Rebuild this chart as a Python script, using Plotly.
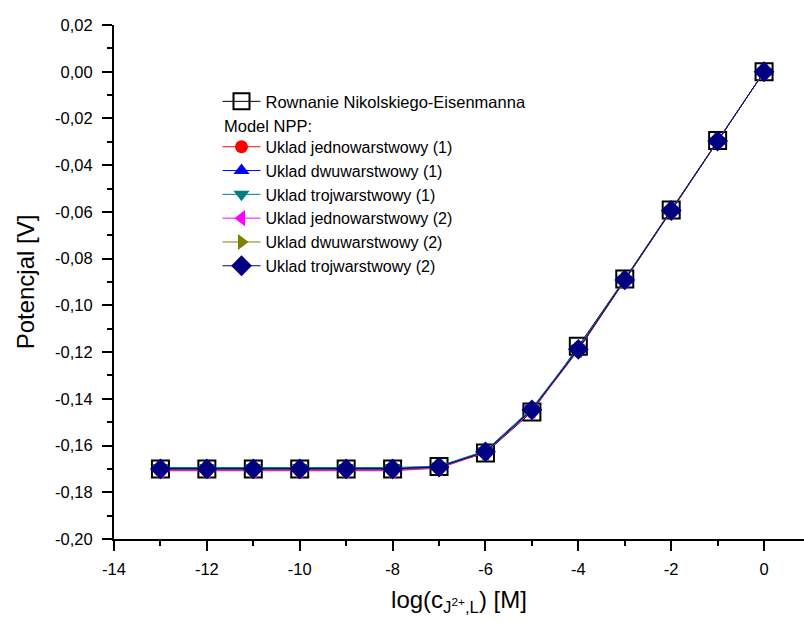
import plotly.graph_objects as go

# log concentration of the primary ion
log_c = [-13, -12, -11, -10, -9, -8, -7, -6, -5, -4, -3, -2, -1, 0]

# Nikolsky-Eisenmann equation
ne = [-0.1700, -0.1700, -0.1700, -0.1700, -0.1700, -0.1700, -0.1690,
      -0.1632, -0.1456, -0.1175, -0.0887, -0.0592, -0.0294, 0.0000]

# NPP model, single / double / triple layer systems, variants (1) and (2)
jedno_1 = [-0.1706, -0.1706, -0.1706, -0.1706, -0.1706, -0.1706, -0.1695,
           -0.1628, -0.1450, -0.1190, -0.0893, -0.0595, -0.0297, 0.0000]
dwu_1 = [-0.1698, -0.1698, -0.1698, -0.1698, -0.1698, -0.1698, -0.1690,
         -0.1625, -0.1445, -0.1185, -0.0890, -0.0594, -0.0297, 0.0000]
trzy_1 = [-0.1694, -0.1694, -0.1694, -0.1694, -0.1694, -0.1694, -0.1688,
          -0.1622, -0.1440, -0.1182, -0.0888, -0.0593, -0.0296, 0.0000]
jedno_2 = [-0.1708, -0.1708, -0.1708, -0.1708, -0.1708, -0.1708, -0.1697,
           -0.1630, -0.1452, -0.1192, -0.0894, -0.0596, -0.0298, 0.0000]
dwu_2 = [-0.1704, -0.1704, -0.1704, -0.1704, -0.1704, -0.1704, -0.1694,
         -0.1628, -0.1449, -0.1189, -0.0892, -0.0595, -0.0297, 0.0000]
trzy_2 = [-0.1700, -0.1700, -0.1700, -0.1700, -0.1700, -0.1700, -0.1692,
          -0.1627, -0.1447, -0.1188, -0.0891, -0.0594, -0.0297, 0.0000]

x_ticks = [-14, -12, -10, -8, -6, -4, -2, 0]
x_labels = ["-14", "-12", "-10", "-8", "-6", "-4", "-2", "0"]
y_ticks = [0.02, 0.00, -0.02, -0.04, -0.06, -0.08, -0.10, -0.12, -0.14,
           -0.16, -0.18, -0.20]
y_labels = ["0,02", "0,00", "-0,02", "-0,04", "-0,06", "-0,08", "-0,10",
            "-0,12", "-0,14", "-0,16", "-0,18", "-0,20"]

FONT = "Arial, Liberation Sans, sans-serif"

npp_series = [
    ("Uklad jednowarstwowy (1)", jedno_1, "#FF0000", "circle", 13),
    ("Uklad dwuwarstwowy (1)", dwu_1, "#0000FF", "triangle-up", 14),
    ("Uklad trojwarstwowy (1)", trzy_1, "#008080", "triangle-down", 14),
    ("Uklad jednowarstwowy (2)", jedno_2, "#FF00FF", "triangle-left", 14),
    ("Uklad dwuwarstwowy (2)", dwu_2, "#808000", "triangle-right", 14),
    ("Uklad trojwarstwowy (2)", trzy_2, "#000080", "diamond", 16),
]

fig = go.Figure()

fig.add_trace(go.Scatter(
    x=log_c, y=ne, name="Rownanie Nikolskiego-Eisenmanna",
    mode="lines+markers",
    line=dict(color="black", width=1),
    marker=dict(symbol="square-open", size=17, color="black",
                line=dict(width=2, color="black")),
    legend="legend",
))

for name, vals, col, sym, sz in npp_series:
    fig.add_trace(go.Scatter(
        x=log_c, y=vals, name=name, mode="lines+markers",
        line=dict(color=col, width=1),
        marker=dict(symbol=sym, size=sz, color=col, line=dict(width=0)),
        legend="legend2",
    ))

legend_common = dict(
    bgcolor="rgba(0,0,0,0)", borderwidth=0,
    xanchor="left", yanchor="top", tracegroupgap=0, itemwidth=38,
)

fig.update_layout(
    width=804, height=623,
    margin=dict(l=114, r=0, t=25, b=84),
    paper_bgcolor="white", plot_bgcolor="white",
    font=dict(family=FONT, color="black"),
    showlegend=True,
    legend=dict(x=0.150, y=0.885,
                font=dict(family=FONT, size=16.5, color="black"),
                **legend_common),
    legend2=dict(x=0.150, y=0.796,
                 font=dict(family=FONT, size=16, color="black"),
                 **legend_common),
    annotations=[dict(
        text="Model NPP:", xref="paper", yref="paper",
        x=0.1565, y=0.8035, xanchor="left", yanchor="middle",
        showarrow=False, font=dict(family=FONT, size=16.5, color="black"),
    )],
    xaxis=dict(
        range=[-14, 0.86], showgrid=False, zeroline=False,
        showline=True, linecolor="black", linewidth=2,
        ticks="outside", ticklen=10, tickwidth=2, tickcolor="black",
        tickmode="array", tickvals=x_ticks, ticktext=x_labels,
        tickfont=dict(family=FONT, size=16.5, color="black"),
        ticklabelstandoff=4,
        minor=dict(ticks="outside", ticklen=5, tickwidth=2,
                   tickcolor="black", dtick=1, tick0=0),
        title=dict(text="log(c<sub>J<sup>2+</sup>,L</sub>) [M]",
                   font=dict(family=FONT, size=24, color="black"),
                   standoff=14),
    ),
    yaxis=dict(
        range=[-0.20, 0.02], showgrid=False, zeroline=False,
        showline=True, linecolor="black", linewidth=2,
        ticks="outside", ticklen=10, tickwidth=2, tickcolor="black",
        tickmode="array", tickvals=y_ticks, ticktext=y_labels,
        tickfont=dict(family=FONT, size=16.5, color="black"),
        ticklabelstandoff=6,
        minor=dict(ticks="outside", ticklen=5, tickwidth=2,
                   tickcolor="black", dtick=0.01, tick0=0),
        title=dict(text="Potencjal [V]",
                   font=dict(family=FONT, size=24, color="black"),
                   standoff=14),
    ),
)

fig.write_html("out.html")
